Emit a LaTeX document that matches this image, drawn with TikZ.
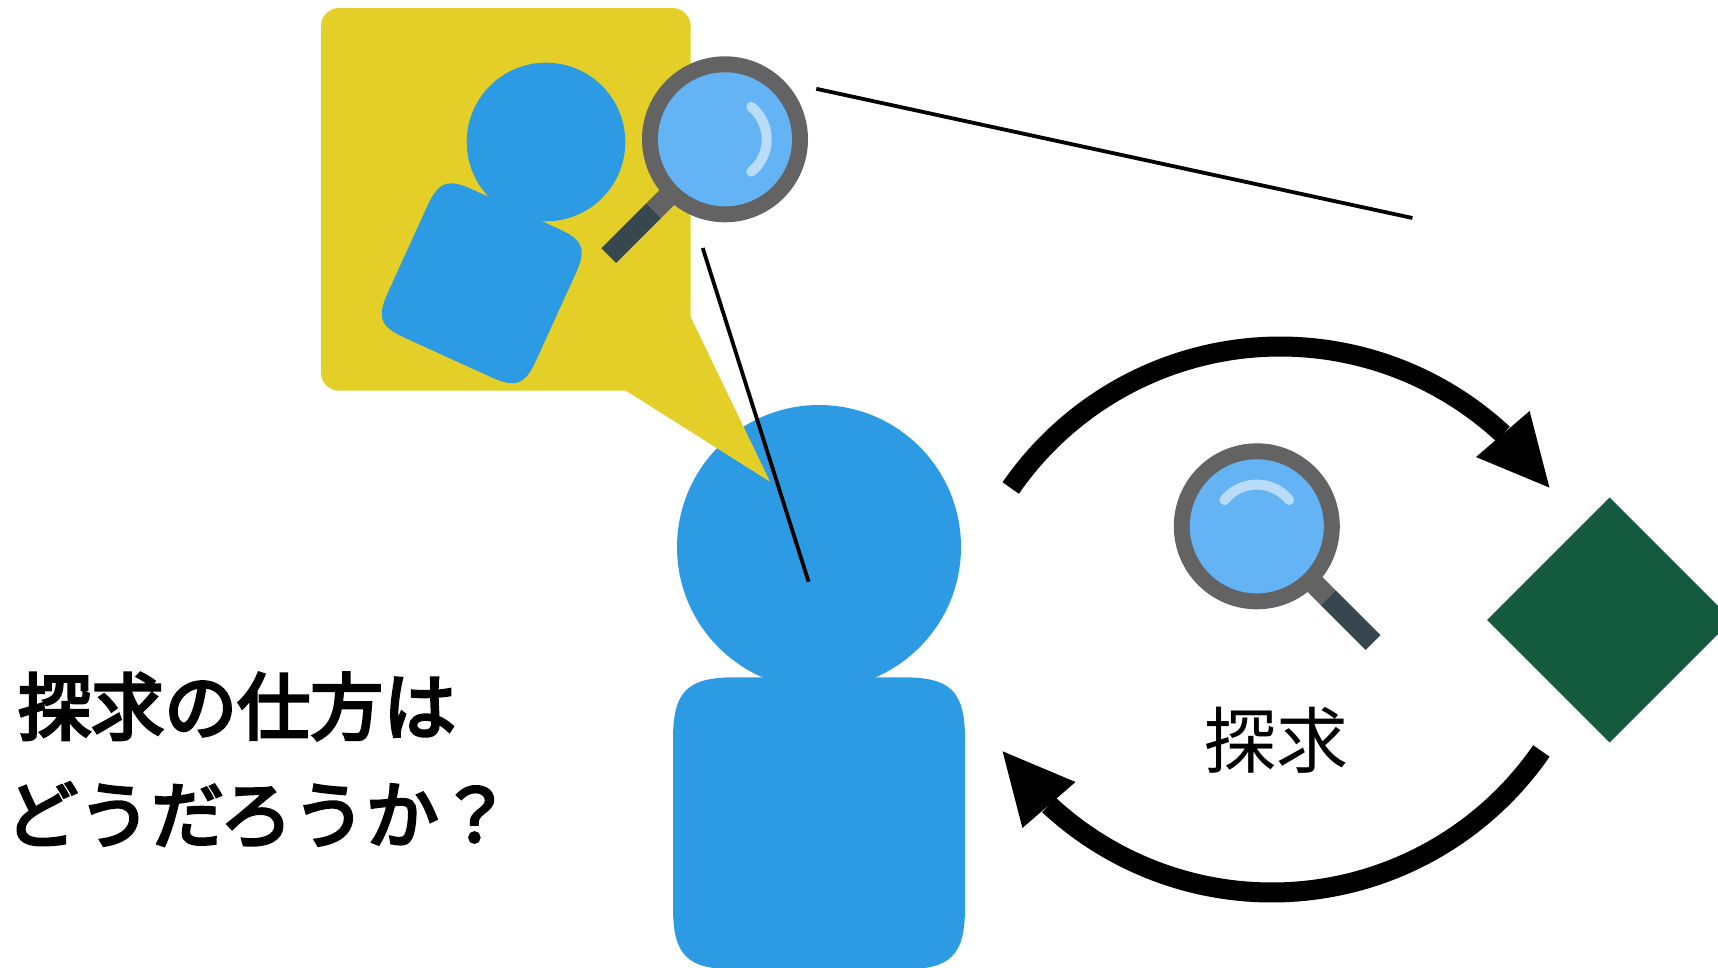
\documentclass[tikz,border=0pt]{standalone}
\usepackage{fontspec}
\newfontfamily\cjk{Noto Sans CJK JP}
\newfontfamily\cjkm[FakeBold=4]{Noto Sans CJK JP}
\definecolor{personblue}{HTML}{2C9BE3}
\definecolor{bubbleyellow}{HTML}{E3CF27}
\definecolor{lensblue}{HTML}{64B3F4}
\definecolor{ringgray}{HTML}{636363}
\definecolor{handledark}{HTML}{37474F}
\definecolor{glint}{HTML}{B9DCFB}
\definecolor{diamondgreen}{HTML}{145A3E}
\newcommand{\squircle}[3]{% half size, corner length, control inset
  (-#1+#2,-#1) -- (#1-#2,-#1) .. controls (#1-#3,-#1) and (#1,-#1+#3) .. (#1,-#1+#2)
  -- (#1,#1-#2) .. controls (#1,#1-#3) and (#1-#3,#1) .. (#1-#2,#1)
  -- (-#1+#2,#1) .. controls (-#1+#3,#1) and (-#1,#1-#3) .. (-#1,#1-#2)
  -- (-#1,-#1+#2) .. controls (-#1,-#1+#3) and (-#1+#3,-#1) .. (-#1+#2,-#1) -- cycle}
\newcommand{\magnifier}[3]{%
  \begin{scope}[shift={(#1,#2)},rotate=#3]
    \fill[ringgray] (-56.9,42.1) -- (-42.1,56.9) -- (-64,78.8) -- (-78.8,64) -- cycle;
    \fill[handledark] (-78.8,64) -- (-64,78.8) -- (-108.9,123.7) -- (-123.7,108.9) -- cycle;
    \fill[ringgray] (0,0) circle[radius=83];
    \fill[lensblue] (0,0) circle[radius=67];
    \draw[glint,line width=10,line cap=round] plot[domain=-51:51,samples=30] ({41.7*cos(\x)},{41.7*sin(\x)});
  \end{scope}}
\begin{document}
\begin{tikzpicture}[x=1pt,y=-1pt,
  textbold/.style={inner sep=0,anchor=base west,font=\cjkm\fontsize{73}{73}\selectfont},
  textreg/.style={inner sep=0,anchor=center,font=\cjk\fontsize{72}{72}\selectfont},
  thinline/.style={black,line width=3.8}]
\useasboundingbox (0,0) rectangle (1718,967);
\clip (0,0) rectangle (1718,967);
% large person
\fill[personblue] (819,547) circle[radius=142];
\begin{scope}[shift={(819,823.3)}]
  \fill[personblue] \squircle{146}{62}{14};
\end{scope}
% speech bubble
\fill[bubbleyellow] (339,8) -- (672.7,8) .. controls (682.6,8) and (690.7,16.1) .. (690.7,26)
  -- (690.7,317) -- (770,481.7) -- (626,390.7) -- (339,390.7)
  .. controls (329.1,390.7) and (321,382.6) .. (321,372.7)
  -- (321,26) .. controls (321,16.1) and (329.1,8) .. (339,8) -- cycle;
% small person
\fill[personblue] (546,142) circle[radius=79.3];
\begin{scope}[shift={(481.7,283.3)},rotate=-24.5]
  \fill[personblue] \squircle{81.5}{34}{7};
\end{scope}
% magnifiers
\magnifier{725}{139.3}{0}
\magnifier{1256.8}{526.3}{90}
% lines
\coordinate (la) at (816.3,88.8);
\coordinate (lb) at (1412.4,218);
\coordinate (lc) at (702.7,248);
\coordinate (ld) at (808.6,581.8);
\draw[thinline] (la) -- (lb);
\draw[thinline] (lc) -- (ld);
% diamond
\fill[diamondgreen] (1487,620) -- (1609.6,497.4) -- (1732.2,620) -- (1609.6,742.6) -- cycle;
% cycle arrows
\draw[black,line width=20] plot[domain=145.4:47.1,samples=80] ({1280.2+327.4*cos(\x)},{673.9-327.4*sin(\x)});
\fill[black] (1549.4,487.6) -- (1529.6,411) -- (1476,457) -- cycle;
\draw[black,line width=20] plot[domain=-34.6:-132.9,samples=80] ({1271.8+327.5*cos(\x)},{565-327.5*sin(\x)});
\fill[black] (1002.6,751.3) -- (1075.5,782) -- (1022.4,828) -- cycle;
% text
\node[textreg] (t3) at (1276,740) {探求};
\node[textbold] (t1) at (18,734) {探求の仕方は};
\node[textbold] (t2) at (5,842) {どうだろうか？};
\end{tikzpicture}
\end{document}
